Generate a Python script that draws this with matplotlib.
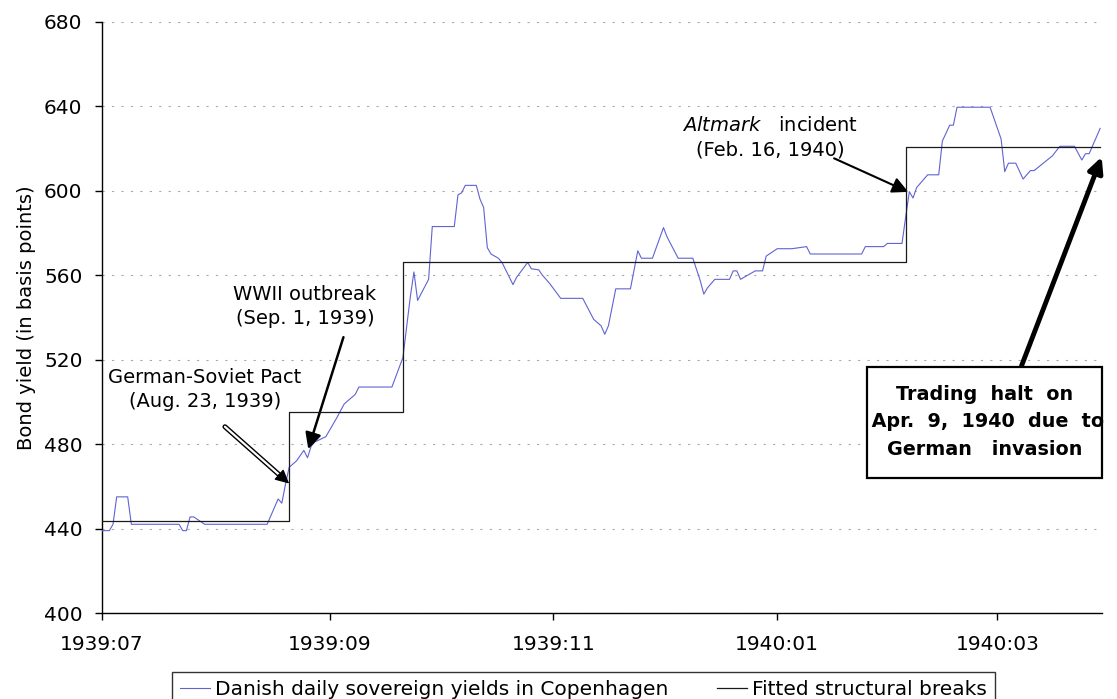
import matplotlib
matplotlib.use("Agg")
import matplotlib.pyplot as plt
import matplotlib.dates as mdates
import matplotlib.patheffects as pe
from matplotlib.patches import Rectangle
import pandas as pd

# Danish daily sovereign yields (basis points)
yield_dates = [
    "1939-07-01", "1939-07-03", "1939-07-04", "1939-07-05", "1939-07-08", "1939-07-09",
    "1939-07-22", "1939-07-23", "1939-07-24", "1939-07-25", "1939-07-26", "1939-07-29",
    "1939-08-15", "1939-08-17", "1939-08-18", "1939-08-19", "1939-08-20", "1939-08-21",
    "1939-08-23", "1939-08-25", "1939-08-26", "1939-08-27", "1939-08-28", "1939-08-31",
    "1939-09-03", "1939-09-05", "1939-09-08", "1939-09-09", "1939-09-18", "1939-09-21",
    "1939-09-23", "1939-09-24", "1939-09-25", "1939-09-28", "1939-09-29", "1939-10-05",
    "1939-10-06", "1939-10-07", "1939-10-08", "1939-10-11", "1939-10-12", "1939-10-13",
    "1939-10-14", "1939-10-15", "1939-10-17", "1939-10-18", "1939-10-21", "1939-10-22",
    "1939-10-25", "1939-10-26", "1939-10-28", "1939-10-29", "1939-10-31", "1939-11-03",
    "1939-11-09", "1939-11-12", "1939-11-14", "1939-11-15", "1939-11-16", "1939-11-18",
    "1939-11-22", "1939-11-24", "1939-11-25", "1939-11-28", "1939-12-01", "1939-12-02",
    "1939-12-05", "1939-12-09", "1939-12-11", "1939-12-12", "1939-12-13", "1939-12-15",
    "1939-12-19", "1939-12-20", "1939-12-21", "1939-12-22", "1939-12-26", "1939-12-28",
    "1939-12-29", "1940-01-01", "1940-01-05", "1940-01-09", "1940-01-10", "1940-01-24",
    "1940-01-25", "1940-01-30", "1940-01-31", "1940-02-04", "1940-02-05", "1940-02-06",
    "1940-02-07", "1940-02-08", "1940-02-11", "1940-02-14", "1940-02-15", "1940-02-17",
    "1940-02-18", "1940-02-19", "1940-02-28", "1940-03-02", "1940-03-03", "1940-03-04",
    "1940-03-06", "1940-03-08", "1940-03-10", "1940-03-11", "1940-03-16", "1940-03-18",
    "1940-03-22", "1940-03-24", "1940-03-25", "1940-03-26", "1940-03-29",
]
yield_values = [
    439, 439, 442, 455, 455, 442,
    442, 439, 439, 445.5, 445.5, 442,
    442, 450, 454, 452, 461, 469,
    472, 477, 473.5, 479, 481, 483.5,
    492.5, 499, 503.5, 507, 507, 521,
    549.5, 561.5, 548, 558, 583, 583,
    598, 599, 602.5, 602.5, 596, 592,
    573, 570, 568, 566, 555.5, 559,
    566, 563, 562.5, 560, 556, 549,
    549, 539, 536, 532, 536, 553.5,
    553.5, 571.5, 568, 568, 582.5, 578,
    568, 568, 557.5, 551, 554, 558,
    558, 562, 562, 558, 562, 562,
    569, 572.5, 572.5, 573.5, 570, 570,
    573.5, 573.5, 575, 575, 587.5, 599.5,
    596.5, 601.5, 607.5, 607.5, 623.5, 631,
    631, 639.5, 639.5, 624.5, 609, 613,
    613, 605.5, 609.5, 609.5, 616.5, 621,
    621, 614.5, 617.5, 617.5, 629.5,
]

# fitted structural breaks: regime start dates and mean levels
break_dates = ["1939-07-01", "1939-08-21", "1939-09-21", "1940-02-05", "1940-03-29"]
break_levels = [443.5, 495, 566, 620.5]

tick_dates = ["1939-07-01", "1939-09-01", "1939-11-01", "1940-01-01", "1940-03-01"]
tick_labels = ["1939:07", "1939:09", "1939:11", "1940:01", "1940:03"]
y_ticks = [400, 440, 480, 520, 560, 600, 640, 680]


def d(s):
    return mdates.date2num(pd.Timestamp(s))


fig = plt.figure(figsize=(11.17, 6.99), dpi=100)
ax = fig.add_axes([102 / 1117, 1 - 613 / 699, 1000 / 1117, (613 - 21.7) / 699])

x = [d(s) for s in yield_dates]
ax.plot(x, yield_values, color="#6063d2", lw=0.8, zorder=3,
        label="Danish daily sovereign yields in Copenhagen")
bx = [d(s) for s in break_dates]
ax.step(bx, break_levels + break_levels[-1:], where="post", color="#1a1a1a",
        lw=0.9, zorder=4, label="Fitted structural breaks")

ax.set_xlim(d("1939-07-01"), d("1940-03-29 12:00"))
ax.set_ylim(400, 680)
ax.set_xticks([d(s) for s in tick_dates])
ax.set_xticklabels(tick_labels)
ax.set_yticks(y_ticks)

for side in ["top", "right"]:
    ax.spines[side].set_visible(False)
for side in ["left", "bottom"]:
    ax.spines[side].set_color("black")
    ax.spines[side].set_linewidth(1.0)

ax.tick_params(axis="x", direction="out", length=5, width=1, labelsize=14.5, pad=11)
ax.tick_params(axis="y", direction="out", length=5, width=1, labelsize=14.5, pad=9)
ax.yaxis.grid(True, linestyle=(0, (2, 6.5)), color="#aaaaaa", lw=0.8)
ax.set_axisbelow(True)
ax.set_ylabel("Bond yield (in basis points)", fontsize=14, labelpad=6)

# annotations
ax.text(d("1939-07-29"), 506, "German-Soviet Pact\n(Aug. 23, 1939)", ha="center",
        va="center", fontsize=14, linespacing=1.35)
ax.text(d("1939-08-25 07:00"), 545, "WWII outbreak\n(Sep. 1, 1939)", ha="center",
        va="center", fontsize=14, linespacing=1.35)
ax.text(d("1939-12-30"), 625, r"$\mathit{Altmark}$   incident" + "\n(Feb. 16, 1940)",
        ha="center", va="center", fontsize=14, linespacing=1.35)

# hollow arrow with black head (German-Soviet Pact)
ax.annotate("", xy=(d("1939-08-18 05:00"), 465.6), xytext=(d("1939-08-03 12:00"), 488.2),
            arrowprops=dict(arrowstyle="-", color="white", lw=1.6, shrinkA=0, shrinkB=0,
                            path_effects=[pe.Stroke(linewidth=3.6, foreground="black"),
                                          pe.Normal()]))
ax.annotate("", xy=(d("1939-08-21"), 461.3), xytext=(d("1939-08-18 05:00"), 465.6),
            arrowprops=dict(arrowstyle="-|>,head_length=0.6,head_width=0.3",
                            color="black", lw=1, shrinkA=0, shrinkB=0, mutation_scale=14))

ax.annotate("", xy=(d("1939-08-26 05:00"), 477.6), xytext=(d("1939-09-04 19:00"), 530.6),
            arrowprops=dict(arrowstyle="-|>,head_length=0.6,head_width=0.3",
                            color="black", lw=1.8, shrinkA=0, shrinkB=0, mutation_scale=16))
ax.annotate("", xy=(d("1940-02-05 17:00"), 599.4), xytext=(d("1940-01-16 12:00"), 615.3),
            arrowprops=dict(arrowstyle="-|>,head_length=0.6,head_width=0.3",
                            color="black", lw=1.5, shrinkA=0, shrinkB=0, mutation_scale=16))
ax.annotate("", xy=(d("1940-03-29 10:00"), 616), xytext=(d("1940-03-07 14:00"), 517.1),
            arrowprops=dict(arrowstyle="-|>,head_length=0.45,head_width=0.22",
                            color="black", lw=3.5, shrinkA=0, shrinkB=0, mutation_scale=20))

# trading halt box
x0 = d("1940-01-25 10:00")
x1 = d("1940-03-29 12:00")
ax.add_patch(Rectangle((x0, 463.9), x1 - x0, 52.5, facecolor="white", edgecolor="black",
                       lw=1.6, zorder=6, clip_on=False))
ax.text(d("1940-02-26 14:00"), 490.5, "Trading  halt  on\n Apr.  9,  1940  due  to\nGerman   invasion",
        ha="center", va="center", fontsize=13.8, fontweight="bold", linespacing=1.55,
        zorder=7, clip_on=False)

leg = ax.legend(loc="upper left", bbox_to_anchor=(172 / 1117, 1 - 671.7 / 699),
                bbox_transform=fig.transFigure, ncol=2, fontsize=14.5, frameon=True,
                fancybox=False, edgecolor="black", borderaxespad=0, handlelength=1.5,
                handletextpad=0.25, columnspacing=2.4)
leg.get_frame().set_linewidth(1.0)

fig.savefig("out.png", dpi=100)
